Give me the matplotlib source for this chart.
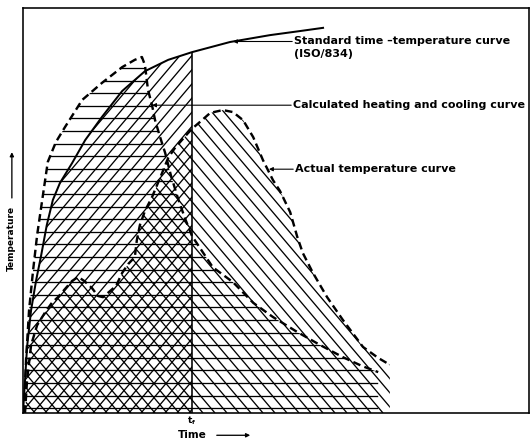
import numpy as np
import matplotlib
matplotlib.use("Agg")
import matplotlib.pyplot as plt
from matplotlib.patches import Polygon
from matplotlib.collections import LineCollection

# arbitrary units: time 0-100, temperature 0-100 (axes carry no scale)
std_time = [0.0, 0.4, 0.8, 1.6, 2.6, 3.6, 4.7, 5.9, 7.3, 9.7, 12.3, 15.6, 19.6,
            24.1, 28.7, 33.4, 40.9, 48.8, 54.7, 59.3]
std_temp = [0.0, 8.1, 16.3, 25.4, 32.8, 39.0, 46.4, 52.6, 56.8, 61.7, 67.4, 73.1,
            79.5, 84.4, 87.2, 89.1, 91.6, 93.3, 94.3, 95.1]

calc_time = [0.2, 0.6, 1.2, 2.0, 2.8, 3.8, 4.9, 6.5, 8.3, 11.7, 15.6, 19.6, 22.1,
             23.5, 24.1, 24.7, 25.5, 26.1, 27.1, 28.1, 29.2, 30.6, 32.0, 33.4,
             35.0, 37.5, 41.5, 45.5, 49.4, 54.2, 58.7, 63.2, 67.0, 70.2]
calc_temp = [0.0, 13.1, 25.4, 35.3, 44.0, 52.6, 62.0, 66.9, 70.6, 77.3, 81.5, 85.4,
             87.2, 87.9, 85.9, 79.8, 76.0, 72.3, 68.1, 64.2, 58.8, 53.1, 48.1,
             43.7, 40.7, 36.0, 32.3, 27.2, 23.7, 20.0, 16.8, 13.8, 11.6, 10.1]

act_time = [0.4, 0.8, 1.6, 2.8, 4.3, 5.7, 6.9, 8.5, 9.7, 10.9, 12.1, 13.6, 14.8,
            15.8, 17.2, 18.4, 19.6, 20.8, 22.1, 22.5, 23.1, 24.1, 25.5, 26.5,
            27.5, 28.7, 30.0, 31.4, 32.6, 33.6, 35.0, 37.0, 39.5, 41.5, 43.5,
            45.5, 47.4, 49.4, 50.8, 52.8, 54.2, 55.3, 57.3, 60.1, 63.2, 67.2,
            70.2, 72.5]
act_temp = [0.0, 8.1, 16.8, 21.7, 24.7, 27.2, 28.6, 30.9, 32.6, 33.6, 32.6, 30.9,
            28.9, 28.6, 30.1, 31.4, 34.6, 36.8, 38.5, 42.7, 46.4, 49.9, 53.3,
            56.3, 59.3, 63.0, 65.4, 67.4, 69.1, 70.4, 71.9, 74.1, 74.8, 74.3,
            72.3, 68.1, 62.5, 57.5, 54.8, 49.6, 43.5, 39.5, 34.6, 28.6, 23.0,
            16.3, 13.6, 11.9]

t_f = 33.4

plt.rcParams['font.family'] = ['DejaVu Sans']

fig = plt.figure(figsize=(531 / 72, 441 / 72), dpi=72)
ax = fig.add_axes([23 / 531, 28 / 441, 506 / 531, 405 / 441])
ax.set_xlim(0, 100)
ax.set_ylim(0, 100)
ax.set_xticks([])
ax.set_yticks([])
for s in ax.spines.values():
    s.set_linewidth(1.6)

std_t = np.array(std_time)
std_T = np.array(std_temp)
m = std_t <= t_f

# hatch texture drawn as clipped line sets
pos = ax.get_position()
px_t = fig.get_figwidth() * fig.dpi * pos.width / 100    # pixels per time unit
px_T = fig.get_figheight() * fig.dpi * pos.height / 100  # pixels per temp unit
slope = 1.18 * px_t / px_T
step_t = 12.0 / px_t
step_T = 12.6 / px_T


def hatch(x, y, kind):
    x = list(x)
    y = list(y)
    xy = np.column_stack([x + [x[-1], x[0]], y + [0, 0]])
    poly = Polygon(xy, closed=True, facecolor='none', edgecolor='none',
                   transform=ax.transData)
    ax.add_patch(poly)
    if kind == '-':
        segs = [[(0, v), (100, v)] for v in np.arange(1.2, 100, step_T)]
    elif kind == '/':
        segs = [[(t0, 0), (t0 + 100 / slope, 100)]
                for t0 in np.arange(-100, 100, step_t)]
    else:
        segs = [[(t0, 0), (t0 - 100 / slope, 100)]
                for t0 in np.arange(0, 200, step_t)]
    lc = LineCollection(segs, colors='black', linewidths=1.3)
    lc.set_clip_path(poly)
    ax.add_collection(lc, autolim=False)


hatch(calc_time, calc_temp, '-')
hatch(std_t[m], std_T[m], '/')
hatch(act_time, act_temp, '\\')

# curves
ax.plot(std_time, std_temp, color='black', lw=2)
ax.plot(calc_time, calc_temp, color='black', lw=2.4, dashes=(3.2, 1.8))
ax.plot(act_time, act_temp, color='black', lw=2.4, dashes=(3.2, 1.8))
ax.vlines(t_f, 0, np.interp(t_f, std_t, std_T), color='black', lw=1.6)

# leader labels
fs = 11.1
arrow = dict(arrowstyle='-|>', color='black', lw=1.1, mutation_scale=8,
             shrinkA=0, shrinkB=0)

x_std = 41.5
y_std = np.interp(x_std, std_t, std_T)
ax.annotate('Standard time \u2013temperature curve', xy=(x_std, y_std),
            xytext=(53.6, y_std), fontsize=fs, fontweight='bold',
            va='center', ha='left', arrowprops=arrow)
ax.text(53.6, y_std - 3.0, '(ISO/834)', fontsize=fs, fontweight='bold',
        va='center', ha='left')

y_calc = 76.0
ax.annotate('Calculated heating and cooling curve', xy=(25.5, y_calc),
            xytext=(53.4, y_calc), fontsize=fs, fontweight='bold',
            va='center', ha='left', arrowprops=arrow)

y_act = 60.2
ax.annotate('Actual temperature curve', xy=(48.6, y_act),
            xytext=(53.8, y_act), fontsize=fs, fontweight='bold',
            va='center', ha='left', arrowprops=arrow)

# axis labels
ax.text(t_f, -1.9, r'$\mathbf{t_f}$', fontsize=9, ha='center', va='center')
ax.text(t_f, -5.5, 'Time', fontsize=10.5, fontweight='bold', ha='center',
        va='center', clip_on=False)
ax.annotate('', xy=(45.3, -5.5), xytext=(37.9, -5.5), annotation_clip=False,
            arrowprops=dict(arrowstyle='-|>', color='black', lw=1.3,
                            mutation_scale=8))
ax.text(-2.2, 43.2, 'Temperature', fontsize=9, fontweight='bold',
        rotation=90, ha='center', va='center', clip_on=False)
ax.annotate('', xy=(-2.2, 64.9), xytext=(-2.2, 52.6), annotation_clip=False,
            arrowprops=dict(arrowstyle='-|>', color='black', lw=1.3,
                            mutation_scale=8))

fig.savefig('out.png', dpi=72)
